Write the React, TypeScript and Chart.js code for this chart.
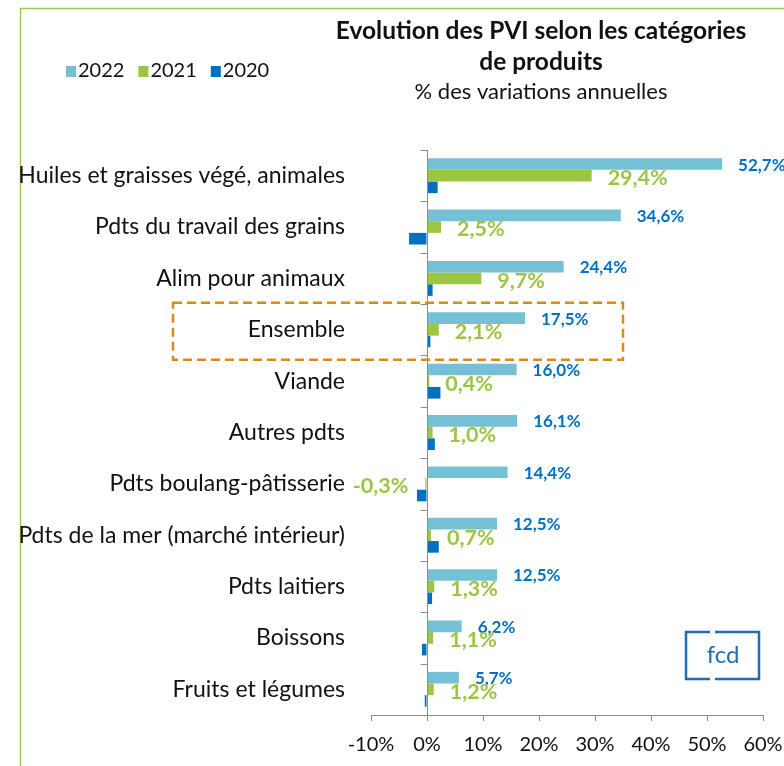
import React, { useEffect, useRef } from "react";
import { Chart, registerables } from "chart.js";

Chart.register(...registerables);

const categories = [
  "Huiles et graisses végé, animales",
  "Pdts du travail des grains",
  "Alim pour animaux",
  "Ensemble",
  "Viande",
  "Autres pdts",
  "Pdts boulang-pâtisserie",
  "Pdts de la mer (marché intérieur)",
  "Pdts laitiers",
  "Boissons",
  "Fruits et légumes",
];
const values2022 = [52.7, 34.6, 24.4, 17.5, 16.0, 16.1, 14.4, 12.5, 12.5, 6.2, 5.7];
const values2021 = [29.4, 2.5, 9.7, 2.1, 0.4, 1.0, -0.3, 0.7, 1.3, 1.1, 1.2];
const values2020 = [1.9, -3.2, 1.0, 0.6, 2.4, 1.4, -1.8, 2.1, 0.9, -0.9, -0.4];
const seriesLabels = ["2022", "2021", "2020"];
const seriesColors = ["#76C0D6", "#9DC544", "#0070C0"];
const xMin = -10;
const xMax = 60;
const xStep = 10;
const highlightCategory = "Ensemble";
const highlightRightValue = 35;

const titleLines = ["Evolution des PVI selon les catégories", "de produits"];
const subtitle = "% des variations annuelles";

const FONT = "Lato, 'Open Sans', sans-serif";
const fmt = (v: number) => v.toFixed(1).replace(".", ",") + "%";

const decorPlugin = {
  id: "decor",
  beforeDraw(chart: any) {
    const { ctx, width, height } = chart;
    ctx.save();
    ctx.fillStyle = "#ffffff";
    ctx.fillRect(0, 0, width, height);
    // green frame
    ctx.strokeStyle = "#92D050";
    ctx.lineWidth = 1.5;
    ctx.beginPath();
    ctx.moveTo(20.5, height);
    ctx.lineTo(20.5, 8.5);
    ctx.lineTo(width, 8.5);
    ctx.stroke();
    ctx.restore();
  },
  afterDatasetsDraw(chart: any) {
    const { ctx, chartArea } = chart;
    const xs = chart.scales.x;
    const ys = chart.scales.y;
    const x0 = Math.round(xs.getPixelForValue(0)) + 0.5;
    ctx.save();
    // zero axis line with category ticks
    ctx.strokeStyle = "#8C8C8C";
    ctx.lineWidth = 1;
    ctx.beginPath();
    ctx.moveTo(x0, chartArea.top);
    ctx.lineTo(x0, chartArea.bottom);
    const n = categories.length;
    const band = (chartArea.bottom - chartArea.top) / n;
    for (let i = 0; i < n; i++) {
      const y = Math.round(chartArea.top + i * band) + 0.5;
      ctx.moveTo(x0 - 7, y);
      ctx.lineTo(x0, y);
    }
    ctx.stroke();

    // data labels
    const offsets = [1, 2.5];
    const fonts = ["bold 17px " + FONT, "bold 21.5px " + FONT];
    const colors = ["#0070C0", "#9DC544"];
    [0, 1].forEach((di) => {
      const meta = chart.getDatasetMeta(di);
      const data = chart.data.datasets[di].data as number[];
      ctx.font = fonts[di];
      ctx.fillStyle = colors[di];
      ctx.textBaseline = "middle";
      meta.data.forEach((el: any, i: number) => {
        const v = data[i];
        const y = el.y + offsets[di];
        if (v >= 0) {
          ctx.textAlign = "left";
          ctx.fillText(fmt(v), el.x + 16, y);
        } else {
          ctx.textAlign = "right";
          ctx.fillText(fmt(v), el.x - 17, y);
        }
      });
    });

    // highlight box
    const hi = categories.indexOf(highlightCategory);
    const yc = ys.getPixelForValue(hi);
    const right = xs.getPixelForValue(highlightRightValue);
    const left = chartArea.left - 198;
    ctx.strokeStyle = "#D98A1A";
    ctx.lineWidth = 2.5;
    ctx.setLineDash([9, 5]);
    ctx.strokeRect(left, yc - 27, right - left, 57);
    ctx.setLineDash([]);
    ctx.restore();
  },
  afterDraw(chart: any) {
    const { ctx } = chart;
    ctx.save();
    // title
    ctx.fillStyle = "#111111";
    ctx.textAlign = "center";
    ctx.textBaseline = "middle";
    ctx.font = "bold 24.5px " + FONT;
    ctx.fillText(titleLines[0], 541, 31);
    ctx.fillText(titleLines[1], 541, 62);
    ctx.font = "22px " + FONT;
    ctx.fillText(subtitle, 541, 92);

    // legend
    let lx = 66;
    ctx.font = "20px " + FONT;
    ctx.textAlign = "left";
    seriesLabels.forEach((lab, i) => {
      ctx.fillStyle = seriesColors[i];
      ctx.fillRect(lx, 66, 10, 11);
      ctx.fillStyle = "#111111";
      ctx.fillText(lab, lx + 12, 71);
      lx += 12 + ctx.measureText(lab).width + 14;
    });

    // fcd logo
    const lc = "#1F6DB5";
    ctx.strokeStyle = lc;
    ctx.lineWidth = 2.5;
    ctx.beginPath();
    ctx.moveTo(710, 632);
    ctx.lineTo(686, 632);
    ctx.lineTo(686, 679);
    ctx.lineTo(710, 679);
    ctx.moveTo(715, 632);
    ctx.lineTo(759, 632);
    ctx.lineTo(759, 679);
    ctx.lineTo(715, 679);
    ctx.stroke();
    ctx.fillStyle = lc;
    ctx.font = "24px " + FONT;
    ctx.textAlign = "center";
    ctx.textBaseline = "middle";
    ctx.fillText("fcd", 723, 655);
    ctx.restore();
  },
};

export default function App() {
  const ref = useRef<HTMLCanvasElement | null>(null);
  useEffect(() => {
    document.body.style.margin = "0";
    const canvas = ref.current;
    if (!canvas) return;
    const chart = new Chart(canvas, {
      type: "bar",
      data: {
        labels: categories,
        datasets: [
          { label: seriesLabels[0], data: values2022, backgroundColor: seriesColors[0] },
          { label: seriesLabels[1], data: values2021, backgroundColor: seriesColors[1] },
          { label: seriesLabels[2], data: values2020, backgroundColor: seriesColors[2] },
        ],
      },
      options: {
        indexAxis: "y",
        responsive: false,
        animation: false,
        devicePixelRatio: 1,
        datasets: { bar: { categoryPercentage: 0.68, barPercentage: 1 } },
        layout: { padding: { top: 150, left: 0, right: 21, bottom: 0 } },
        plugins: { legend: { display: false }, title: { display: false }, tooltip: { enabled: false } },
        scales: {
          x: {
            type: "linear",
            min: xMin,
            max: xMax,
            ticks: {
              stepSize: xStep,
              callback: (v: any) => v + "%",
              color: "#111111",
              font: { family: FONT, size: 20 },
              padding: 12,
              maxRotation: 0,
            },
            grid: { drawOnChartArea: false, drawTicks: true, tickLength: 6, color: "#8C8C8C" },
            border: { display: true, color: "#8C8C8C" },
            afterFit: (s: any) => {
              s.height = 51;
              s.paddingLeft = 0;
              s.paddingRight = 0;
            },
          },
          y: {
            type: "category",
            ticks: {
              color: "#111111",
              font: { family: FONT, size: 23 },
              padding: 18,
              autoSkip: false,
            },
            grid: { display: false },
            border: { display: false },
            afterFit: (s: any) => {
              s.width = 371;
              s.paddingTop = 0;
              s.paddingBottom = 0;
            },
          },
        },
      },
      plugins: [decorPlugin],
    } as any);
    return () => chart.destroy();
  }, []);
  return (
    <div style={{ width: 784, height: 766 }}>
      <canvas ref={ref} width={784} height={766} style={{ display: "block" }} />
    </div>
  );
}
